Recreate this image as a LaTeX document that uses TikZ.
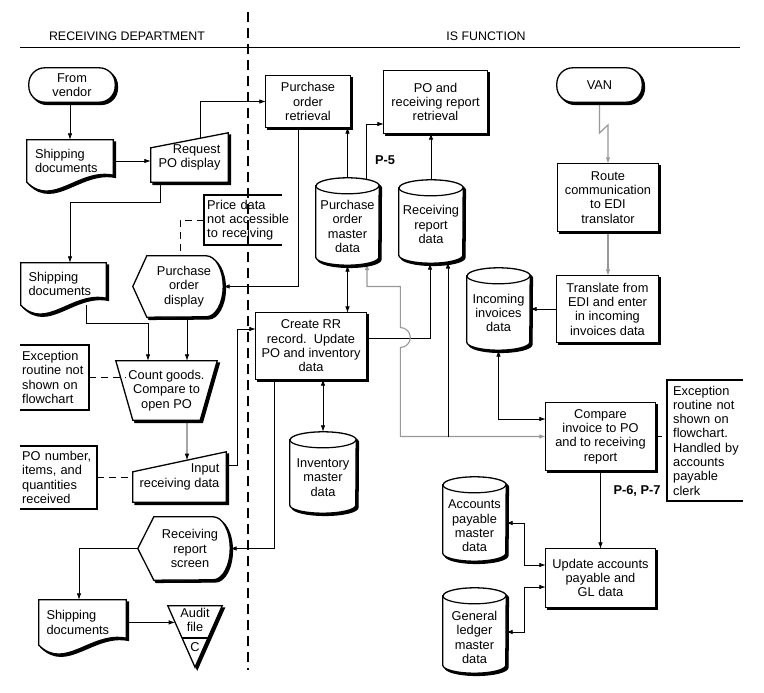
\documentclass[tikz,border=0pt]{standalone}
\usepackage{fontspec}
\setmainfont{Liberation Sans}
\usetikzlibrary{arrows.meta,calc}
\pgfdeclarelayer{bg}
\pgfdeclarelayer{shp}
\pgfsetlayers{bg,shp,main}
\tikzset{
  txt/.style={font=\fontsize{12.8}{14.3}\selectfont, inner sep=0pt, align=center, text=black},
  box/.style={txt, rectangle},
  shad/.style={fill=white, draw=black, line width=1.3pt,
    preaction={fill=black, draw=black, line width=1.3pt, transform canvas={shift={(2.2pt,-2.2pt)}}}},
  conn/.style={line width=0.8pt, draw=black},
  arr/.style={conn, -{Latex[length=6.5pt,width=4.5pt]}},
  arrb/.style={conn, {Latex[length=6.5pt,width=4.5pt]}-{Latex[length=6.5pt,width=4.5pt]}},
  gconn/.style={line width=1.1pt, draw=black!40},
  ann/.style={txt, align=left, anchor=west},
  brk/.style={line width=1.6pt},
  annline/.style={line width=0.8pt, dash pattern=on 7pt off 5pt},
  plabel/.style={txt, font=\fontsize{12.8}{14.3}\selectfont\bfseries},
}
\newcommand\docshape[1]{%
  \path[shad] (#1.south west) -- (#1.north west) -- (#1.north east) -- ([yshift=7pt]#1.south east)
    .. controls ($(#1.south west)!0.6!(#1.south east)+(0,-14)$) and ($(#1.south west)!0.3!(#1.south east)+(0,26)$) .. (#1.south west) -- cycle;}
\newcommand\manin[2]{%
  \path[shad] (#1.south west) -- ([yshift=-#2pt]#1.north west) -- (#1.north east) -- (#1.south east) -- cycle;}
\newcommand\dispshape[3]{%
  \path[shad] ([xshift=-12pt]#1.west) -- ([xshift=#2pt]#1.north west) -- ([xshift=-17pt]#1.north east)
    arc[start angle=90,end angle=-90,x radius=17pt,y radius=#3pt] -- ([xshift=#2pt]#1.south west) -- cycle;}
\newcommand\cylshape[3]{%
  \path[shad] ([yshift=-#3pt]#1.north west) -- ([yshift=#3pt]#1.south west)
    arc[start angle=180,end angle=360,x radius=#2pt,y radius=#3pt]
    -- ([yshift=-#3pt]#1.north east)
    arc[start angle=0,end angle=180,x radius=#2pt,y radius=#3pt] -- cycle;
  \draw[line width=1.2pt] ([yshift=-#3pt]#1.north west) arc[start angle=180,end angle=360,x radius=#2pt,y radius=#3pt];}
\begin{document}
\begin{tikzpicture}[x=1pt,y=-1pt]
\useasboundingbox (0,0) rectangle (764,693);
% headers
\node[txt, font=\fontsize{12.4}{14}\selectfont] (hdrrd) at (127,36) {RECEIVING DEPARTMENT};
\node[txt, font=\fontsize{12.4}{14}\selectfont] (hdris) at (486,36) {IS FUNCTION};
\draw[line width=1pt] (20,48) -- (740,48);
\draw[line width=2.2pt, dash pattern=on 10pt off 6pt] (248,12) -- (248,670);

% nodes
\node[box, minimum width=86pt, minimum height=34pt] (vendor) at (72,85) {From\\vendor};
\node[box, minimum width=86pt, minimum height=42pt, text width=70pt, align=left] (sd1) at (70,161) {Shipping\\documents};
\node[box, minimum width=77pt, minimum height=49pt, align=right] (reqpo) at (189.5,157.5) {Request\\PO display};
\node[box, minimum width=84pt, minimum height=51pt] (poret) at (308,101.5) {Purchase\\order\\retrieval};
\node[box, minimum width=103pt, minimum height=62pt] (porr) at (435.5,102) {PO and\\receiving report\\retrieval};
\node[box, minimum width=85pt, minimum height=34pt] (van) at (599.5,85) {VAN};
\node[box, minimum width=100pt, minimum height=67pt] (route) at (608,197.5) {Route\\communication\\to EDI\\translator};
\node[box, minimum width=101pt, minimum height=66pt] (trans) at (607.5,309) {Translate from\\EDI and enter\\in incoming\\invoices data};
\node[box, minimum width=63pt, minimum height=82pt, label={[txt,yshift=-4pt]center:{Incoming\\invoices\\data}}] (inc) at (498.5,309) {};
\node[box, minimum width=63pt, minimum height=87pt, label={[txt,yshift=-5pt]center:{Purchase\\order\\master\\data}}] (pomd) at (347.5,221.5) {};
\node[box, minimum width=64pt, minimum height=83pt, label={[txt,yshift=-3pt]center:{Receiving\\report\\data}}] (rrd) at (431,221.5) {};
\node[box, minimum width=78pt, minimum height=61pt] (podisp) at (184,286.5) {Purchase\\order\\display};
\node[box, minimum width=85pt, minimum height=42pt, text width=70pt, align=left] (sd2) at (63.5,284) {Shipping\\documents};
\node[box, minimum width=101pt, minimum height=59pt] (count) at (166.5,390.5) {Count goods.\\Compare to\\open PO};
\node[box, minimum width=93pt, minimum height=50pt, align=right] (input) at (179.5,477) {Input\\receiving data};
\node[box, minimum width=110pt, minimum height=66pt] (crr) at (311,346) {Create RR\\record.\ \ Update\\PO and inventory\\data};
\node[box, minimum width=66pt, minimum height=81pt, label={[txt,yshift=-5pt]center:{Inventory\\master\\data}}] (inv) at (323,472.5) {};
\node[box, minimum width=109pt, minimum height=67pt] (cmp) at (600.5,436.5) {Compare\\invoice to PO\\and to receiving\\report};
\node[box, minimum width=109pt, minimum height=58pt] (upd) at (600.5,578) {Update accounts\\payable and\\GL data};
\node[box, minimum width=63pt, minimum height=84pt, label={[txt,yshift=-7pt]center:{Accounts\\payable\\master\\data}}] (apmd) at (474.5,519) {};
\node[box, minimum width=63pt, minimum height=85pt, label={[txt,yshift=-7pt]center:{General\\ledger\\master\\data}}] (glmd) at (474.5,630.5) {};
\node[box, minimum width=80pt, minimum height=63pt] (rscreen) at (190,548.5) {Receiving\\report\\screen};
\node[box, minimum width=87pt, minimum height=45pt, text width=72pt, align=left] (sd3) at (82.5,622.5) {Shipping\\documents};
\node[box, minimum width=54pt, minimum height=28pt] (audit) at (195,620) {Audit\\file};
\coordinate (audittip) at ([yshift=-33pt]audit.south);
\node[txt] (auditc) at (195,647) {C};
\node[plabel] (p5) at (385,160) {P-5};
\node[plabel] (p67) at (637,491) {P-6, P-7};
\node[ann, text width=86pt, minimum height=50pt] (price) at (207,220) {Price data\\not accessible\\to receiving};
\node[ann, text width=66pt, minimum height=65pt] (exc1) at (22,377.5) {Exception\\routine not\\shown on\\flowchart};
\node[ann, text width=74pt, minimum height=63pt] (ponum) at (22,477.5) {PO number,\\items, and\\quantities\\received};
\node[ann, text width=70pt, minimum height=121pt] (exc2) at (673,440.5) {Exception\\routine not\\shown on\\flowchart.\\Handled by\\accounts\\payable\\clerk};
\coordinate (reqtl) at ([yshift=-15pt]reqpo.north west);
\coordinate (intl) at ([yshift=-20pt]input.north west);

% shapes
\begin{pgfonlayer}{shp}
\path[shad, rounded corners=16pt] (vendor.north west) rectangle (vendor.south east);
\path[shad, rounded corners=16pt] (van.north west) rectangle (van.south east);
\docshape{sd1}
\docshape{sd2}
\docshape{sd3}
\manin{reqpo}{15}
\manin{input}{20}
\foreach \n in {poret,porr,route,trans,crr,cmp,upd}{\path[shad] (\n.north west) rectangle (\n.south east);}
\cylshape{inc}{31.5}{8}
\cylshape{pomd}{31.5}{8}
\cylshape{rrd}{32}{8}
\cylshape{inv}{33}{8}
\cylshape{apmd}{31.5}{8}
\cylshape{glmd}{31.5}{8}
\dispshape{podisp}{2}{30.5}
\dispshape{rscreen}{4}{31.5}
\path[shad] (count.north west) -- (count.north east) -- ([xshift=-17pt]count.south east) -- ([xshift=17pt]count.south west) -- cycle;
\path[shad] (audit.north west) -- (audit.north east) -- (audittip) -- cycle;
\draw[line width=1.2pt] ($(audit.north west)!0.525!(audittip)$) -- ($(audit.north east)!0.525!(audittip)$);
% annotation brackets
\draw[brk] ([xshift=75pt]price.north west) -- ([xshift=-3pt]price.north west) -- ([xshift=-3pt]price.south west) -- ([xshift=75pt]price.south west);
\draw[brk] ([xshift=-2pt]exc1.north west) -- ([xshift=67pt]exc1.north west) -- ([xshift=67pt]exc1.south west) -- ([xshift=-2pt]exc1.south west);
\draw[brk] ([xshift=-2pt]ponum.north west) -- ([xshift=75pt]ponum.north west) -- ([xshift=75pt]ponum.south west) -- ([xshift=-2pt]ponum.south west);
\draw[brk] ([xshift=70pt]exc2.north west) -- ([xshift=-6pt]exc2.north west) -- ([xshift=-6pt]exc2.south west) -- ([xshift=70pt]exc2.south west);
% annotation dashed lines
\draw[annline] ([xshift=-3pt]price.west) -| ([xshift=-4pt]podisp.north);
\draw[annline] ([xshift=67pt]exc1.west) -- ([xshift=10pt]count.west |- exc1.west);
\draw[annline] ([xshift=75pt]ponum.west) -- (ponum.west -| input.west);
\draw[annline] (cmp.east) -- ([xshift=-6pt]exc2.west |- cmp.east);
\end{pgfonlayer}

% connectors
\begin{pgfonlayer}{bg}
\draw[arr] (vendor.south -| sd1.north) -- (sd1.north);
\draw[arr] (sd1.east) -- (sd1.east -| reqpo.west);
\draw[arr] ($(reqtl)!0.636!(reqpo.north east)$) |- (poret.west);
\draw[arr] ([xshift=-29.5pt]reqpo.south) -- ++(0,20) -| ([xshift=6.5pt]sd2.north);
\draw[arr] ([xshift=-10pt]poret.south) |- (podisp.east);
\draw[arr] ([xshift=22.5pt]sd2.south) -- ++(0,18) -| ([xshift=-18.5pt]count.north);
\draw[arr] ([xshift=3pt]podisp.south) -- ([xshift=3pt]podisp.south |- count.north);
\draw[arr] ([xshift=20.5pt]count.south) -- ($(intl)!0.58!(input.north east)$);
\draw[arr] ([yshift=12pt]input.east) -- ++(11,0) |- ([yshift=17pt]crr.west);
\draw[arrb] (pomd.south) -- (pomd.south |- crr.north);
\draw[arr] (pomd.north) -- (pomd.north |- poret.south);
\draw[arr] ([xshift=18.5pt]pomd.center) |- ([yshift=-22pt]porr.west);
\draw[arr] (rrd.north) -- (rrd.north |- porr.south);
\draw[arr] ([yshift=8pt]crr.east) -| ([xshift=-1pt]rrd.south);
\draw[gconn, {Latex[length=6.5pt,width=4.5pt]}-{Latex[length=6.5pt,width=4.5pt]}]
  (cmp.west) -- ++(-145.5,0) -- ++(0,-89) arc[start angle=-90,end angle=90,radius=10pt]
  -- ++(0,-41) -| ([xshift=19.5pt,yshift=1.7pt]pomd.south);
\draw[arr] ([xshift=17pt]rrd.south |- cmp.west) -- ([xshift=17pt,yshift=1.2pt]rrd.south);
\draw[gconn, -{Latex[length=6.5pt,width=4.5pt]}] (van.south) -- ++(0,31) -- ([yshift=39pt]route.north) -- (route.north);
\draw[gconn, -{Latex[length=6.5pt,width=4.5pt]}] (route.south) -- (route.south |- trans.north);
\draw[arr] (trans.west) -- (trans.west -| inc.east);
\draw[arrb] (inc.south) |- ([yshift=17.5pt]cmp.west);
\draw[arr] (cmp.south) -- (upd.north);
\draw[arrb] ([yshift=-4pt]apmd.east) -- ++(18,0) |- ([yshift=13pt]upd.west);
\draw[arrb] ([yshift=-1.5pt]glmd.east) -- ++(18,0) |- ([yshift=-9pt]upd.west);
\draw[arrb] (inv.north) -- (inv.north |- crr.south);
\draw[arr] ([xshift=-37pt]crr.south) |- (rscreen.east);
\draw[arr] ([xshift=-12pt]rscreen.west) -| ([xshift=-3.5pt]sd3.north);
\draw[arr] (sd3.east) -- ($(audit.north west)!0.2705!(audittip)$);
\end{pgfonlayer}
\end{tikzpicture}
\end{document}
